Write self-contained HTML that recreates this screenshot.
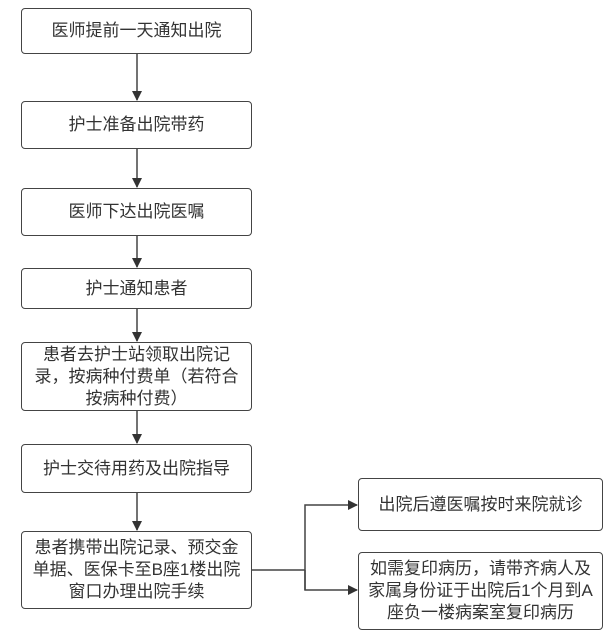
<!DOCTYPE html>
<html><head><meta charset="utf-8"><style>
body{margin:0;background:#fff;}
.wrap{position:relative;width:616px;height:638px;overflow:hidden;font-family:"Liberation Sans","Noto Sans CJK SC",sans-serif;color:#333;}
.b{position:absolute;box-sizing:border-box;border:1.5px solid #444;border-radius:4px;display:flex;align-items:center;justify-content:center;text-align:center;font-size:17px;line-height:22px;background:#fff;}
svg{position:absolute;left:0;top:0;}
</style></head><body><div class="wrap">
<svg width="616" height="638">
<defs><marker id="a" markerWidth="10" markerHeight="10" refX="9" refY="5" orient="auto" markerUnits="userSpaceOnUse"><path d="M0,0 L10,5 L0,10 z" fill="#333"/></marker></defs>
<g stroke="#444" stroke-width="1.5" fill="none">
<line x1="137" y1="54" x2="137" y2="100" marker-end="url(#a)"/>
<line x1="137" y1="149" x2="137" y2="187" marker-end="url(#a)"/>
<line x1="137" y1="236" x2="137" y2="267" marker-end="url(#a)"/>
<line x1="137" y1="309" x2="137" y2="341" marker-end="url(#a)"/>
<line x1="137" y1="411" x2="137" y2="443" marker-end="url(#a)"/>
<line x1="137" y1="493" x2="137" y2="530" marker-end="url(#a)"/>
<polyline points="252,570 305,570"/>
<polyline points="305,590 305,505 357,505" marker-end="url(#a)"/>
<polyline points="305,570 305,590 357,590" marker-end="url(#a)"/>
</g></svg>
<div class="b" style="left:21px;top:8px;width:231px;height:46px;">医师提前一天通知出院</div>
<div class="b" style="left:21px;top:101px;width:231px;height:48px;">护士准备出院带药</div>
<div class="b" style="left:21px;top:188px;width:231px;height:48px;">医师下达出院医嘱</div>
<div class="b" style="left:21px;top:268px;width:231px;height:41px;">护士通知患者</div>
<div class="b" style="left:21px;top:342px;width:231px;height:69px;padding:0 10px;">患者去护士站领取出院记录，按病种付费单（若符合按病种付费）</div>
<div class="b" style="left:21px;top:444px;width:231px;height:49px;">护士交待用药及出院指导</div>
<div class="b" style="left:21px;top:531px;width:231px;height:78px;padding:0 8px;">患者携带出院记录、预交金单据、医保卡至B座1楼出院窗口办理出院手续</div>
<div class="b" style="left:358px;top:478px;width:245px;height:53px;">出院后遵医嘱按时来院就诊</div>
<div class="b" style="left:358px;top:552px;width:245px;height:78px;padding:0 8px;">如需复印病历，请带齐病人及家属身份证于出院后1个月到A座负一楼病案室复印病历</div>
</div></body></html>
